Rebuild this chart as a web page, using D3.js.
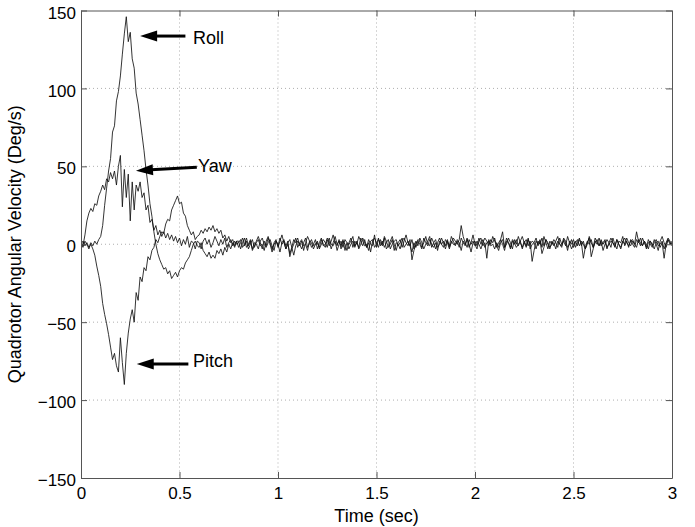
<!DOCTYPE html>
<html>
<head>
<meta charset="utf-8">
<script src="https://cdn.jsdelivr.net/npm/d3@7"></script>
<style>
  body { margin: 0; background: #fff; }
  text { font-family: "Liberation Sans", Arial, Helvetica, sans-serif; fill: #000; }
</style>
</head>
<body>
<div class="js-chart"></div>
<script>
// sample spacing of the recorded signals (sec)
var DT = 0.01;

// Roll rate (deg/s), one value every DT from t = 0 to 3 s
var roll = [
  1, -2, 2, 0, -3, 1, -1, 2, 0, 3,
  5, 12, 25, 36, 47, 55, 72, 76, 92, 98,
  108, 122, 135, 146, 130, 136, 119, 113, 97, 90,
  80, 70, 60, 48, 38, 26, 18, 8, 0, -6,
  -10, -13, -16, -15, -19, -17, -22, -20, -18, -21,
  -17, -15, -16, -12, -10, -8, -4, 0, 2, -1,
  -2, 1, -4, -6, -8, -5, -9, -7, -9, -4,
  -6, -3, -7, -2, -5, 0, -3, 1, -2, 2,
  2, -3, 1, 4, -2, 0, 3, -4, -1, 2,
  5, 1, -3, 2, -1, 4, 0, -5, 1, 3,
  -2, 2, 6, 1, -3, 0, -6, -2, 3, 1,
  4, -1, 2, -4, 1, 5, 2, -2, 0, 3,
  -3, 1, 4, 0, -2, 3, -1, 2, 6, 1,
  -1, 3, -3, 2, 0, -4, 1, 4, -2, 2,
  0, 5, 2, -1, 3, -2, 1, -5, 2, 4,
  1, -2, 3, 0, 4, -3, -1, 2, 5, 0,
  -4, 1, 3, -2, 2, 6, 1, -1, 3, -3,
  2, -1, 4, 1, -3, 0, 2, 5, -2, 1,
  3, -2, 0, 4, 1, -3, 2, -1, 5, 2,
  -1, 3, 1, -4, 2, 0, 4, -2, 1, 6,
  0, -3, 2, 4, -1, 1, -9, 3, 0, 5,
  2, -1, -4, 1, 3, -2, 0, 4, 1, -3,
  3, 0, 5, 1, -2, 2, -1, 4, -3, 0,
  1, 4, -1, 2, -6, -2, 3, 0, -3, 2,
  -1, 2, 5, 0, -2, 3, 1, -4, 2, 0,
  3, -2, 1, 4, -1, 2, -3, 0, 5, 1,
  -2, 1, 3, -1, 2, -4, 0, 3, 1, -2,
  4, 0, -3, 2, 1, 5, -1, 2, -2, 3,
  0, -2, 3, 1, 4, -1, 2, -3, 1, 2,
  -1, 3, 0, -4, 2, 5, 1, -2, 3, 0,
  2
];

// Pitch rate (deg/s)
var pitch = [
  0, 2, -1, 1, -2, 0, -3, -7, -14, -20,
  -27, -38, -45, -51, -58, -66, -74, -70, -78, -82,
  -60, -76, -90, -70, -57, -48, -42, -50, -31, -36,
  -21, -24, -15, -17, -8, -10, -4, -2, 3, 1,
  5, 8, 7, 13, 16, 15, 22, 25, 28, 31,
  26, 27, 20, 18, 12, 9, 6, 8, 3, 5,
  6, 9, 7, 10, 8, 11, 9, 12, 8, 10,
  7, 9, 4, 6, 2, 5, 1, 3, -1, 2,
  -2, 1, 4, -1, 2, -3, 0, 3, -2, 1,
  3, -1, 0, -4, 2, 5, 1, -3, 0, 2,
  -1, 4, 0, 2, -3, 1, 3, -2, -7, -1,
  2, 0, -3, 1, 4, -2, 1, 3, -1, 0,
  1, -2, 3, -1, 0, 4, 2, -3, 1, 5,
  0, 2, -1, 3, -4, 1, 0, 2, 5, -2,
  2, -3, 0, 4, 1, -2, 3, 0, -1, 6,
  -2, 3, 1, -1, 5, 2, -2, 0, 3, -4,
  1, 0, -3, 2, 4, 1, -1, 3, -10, -4,
  0, 3, 2, -2, 1, 5, 0, -1, 4, 1,
  -3, 1, 4, 0, 2, -1, 3, -2, 1, 4,
  2, 0, 3, 12, 5, 1, -2, 3, 0, 2,
  -1, 2, 0, -3, 1, 4, 2, -1, 3, 1,
  4, -2, 1, 3, 8, -2, 4, 1, -3, 2,
  0, 3, -1, 2, 5, 1, -2, 3, 0, 2,
  1, -3, 2, 0, 4, -1, 3, 1, -2, 0,
  3, 1, -2, 4, 0, 2, -1, 5, 1, -3,
  0, 2, -1, 3, 1, -9, -2, 2, 0, 3,
  -2, 4, 1, -1, 3, 0, 2, -3, 1, 4,
  1, -1, 3, 0, -2, 2, 4, 1, -1, 2,
  3, 0, 8, 2, -1, 4, 1, -2, 3, 0,
  -2, 1, 3, -1, 0, 2, -3, 1, 4, 2,
  0
];

// Yaw rate (deg/s)
var yaw = [
  2, -1, 6, 15, 20, 23, 21, 26, 25, 31,
  34, 38, 35, 42, 40, 46, 42, 47, 38, 50,
  57, 24, 48, 30, 45, 15, 40, 22, 38, 34,
  40, 30, 33, 22, 25, 14, 16, 9, 12, 6,
  9, 5, 8, 4, 7, 3, 6, 2, 5, 1,
  4, -1, 3, 0, 5, -2, 2, 1, -3, 2,
  1, -3, 2, 4, 0, 3, -2, 1, 5, 2,
  -1, 3, 0, 4, -2, 1, 3, -1, 2, 0,
  1, 3, -2, 0, 4, -1, 2, -3, 1, 0,
  -3, 2, 4, 0, -2, 1, 3, -1, -4, 2,
  0, -5, 1, 3, -1, 2, -8, -3, 0, 4,
  -2, 1, 3, -1, 0, -4, 2, 1, -3, 0,
  2, -3, 0, 3, 1, -2, 4, 0, -1, 2,
  -4, 0, 2, -2, 3, 1, -3, 0, 2, -1,
  1, -2, 4, 2, -1, 0, -4, 2, 3, -2,
  0, 4, -1, 2, -2, 1, 3, -3, 0, 2,
  3, -1, 1, 4, -2, 0, 2, -1, -5, 1,
  -2, 2, 0, -3, 4, 1, -1, 3, 0, -2,
  1, -4, 2, 0, -2, 3, 1, -3, 2, 0,
  0, 2, -2, 4, 1, -1, 3, 0, -5, 1,
  2, -1, 4, 0, 3, -2, 1, 2, -1, 0,
  -3, 1, -2, 3, 0, -4, 2, 1, -2, 3,
  1, -2, 0, 2, -3, 1, 3, -1, 2, -11,
  -4, 2, 0, 3, -2, 5, 1, -3, 2, 0,
  1, -3, 2, 0, -1, 4, 2, -2, 0, 3,
  -2, 1, 3, -1, 2, 0, -3, 1, 4, -8,
  -3, 2, 0, 4, -1, 1, 3, -2, 0, 2,
  1, -2, 3, 0, -3, 2, 0, 4, 1, -1,
  2, 0, -2, 3, 1, -1, 2, 0, -3, 2,
  0, -3, 1, 2, -2, 1, -9, 0, 3, 1,
  -1
];

// ticks
var xTicks = [0, 0.5, 1, 1.5, 2, 2.5, 3];
var xTickLabels = ["0", "0.5", "1", "1.5", "2", "2.5", "3"];
var yTicks = [-150, -100, -50, 0, 50, 100, 150];
var yTickLabels = ["\u2212150", "\u2212100", "\u221250", "0", "50", "100", "150"];

// arrow annotations: label, text anchor point, arrow tail, arrow tip (sec, deg/s)
var noteLabels = ["Roll", "Yaw", "Pitch"];
var noteText = [[0.568, 128.5], [0.594, 46.4], [0.568, -78.8]];
var noteTail = [[0.53, 133.6], [0.588, 49.4], [0.545, -76.8]];
var noteTip = [[0.30, 133.6], [0.279, 47.2], [0.283, -76.8]];

var W = 695, H = 527;
var margin = {top: 10.5, right: 23, bottom: 49, left: 81};
var width = W - margin.left - margin.right;
var height = H - margin.top - margin.bottom;

var svg = d3.select(".js-chart").append("svg")
  .attr("width", W)
  .attr("height", H);

var g = svg.append("g")
  .attr("transform", "translate(" + margin.left + "," + margin.top + ")");

var x = d3.scaleLinear().domain([0, 3]).range([0, width]);
var y = d3.scaleLinear().domain([-150, 150]).range([height, 0]);

// dotted grid
g.append("g").selectAll("line")
  .data(xTicks.slice(1, -1))
  .enter().append("line")
  .attr("x1", function(d) { return x(d); })
  .attr("x2", function(d) { return x(d); })
  .attr("y1", 0)
  .attr("y2", height)
  .attr("stroke", "#9a9a9a")
  .attr("stroke-width", 0.8)
  .attr("stroke-dasharray", "1,3");

g.append("g").selectAll("line")
  .data(yTicks.slice(1, -1))
  .enter().append("line")
  .attr("x1", 0)
  .attr("x2", width)
  .attr("y1", function(d) { return y(d); })
  .attr("y2", function(d) { return y(d); })
  .attr("stroke", "#9a9a9a")
  .attr("stroke-width", 0.8)
  .attr("stroke-dasharray", "1,3");

// signals
svg.append("clipPath").attr("id", "plotclip")
  .append("rect").attr("width", width).attr("height", height);

var line = d3.line()
  .x(function(d, i) { return x(i * DT); })
  .y(function(d) { return y(d); });

g.append("g").attr("clip-path", "url(#plotclip)")
  .selectAll("path")
  .data([roll, pitch, yaw])
  .enter().append("path")
  .attr("d", line)
  .attr("fill", "none")
  .attr("stroke", "#111")
  .attr("stroke-width", 0.85)
  .attr("stroke-linejoin", "round");

// axes, ticks pointing inward on all four sides
function styleAxis(sel) {
  sel.select(".domain").attr("stroke", "#555").attr("stroke-width", 1);
  sel.selectAll(".tick line").attr("stroke", "#555").attr("stroke-width", 1);
  sel.selectAll("text").attr("font-size", 17).attr("fill", "#000")
    .attr("font-family", "Liberation Sans, Arial, sans-serif");
}

g.append("g")
  .attr("transform", "translate(0," + height + ")")
  .call(d3.axisBottom(x).tickValues(xTicks)
    .tickFormat(function(d, i) { return xTickLabels[i]; })
    .tickSizeInner(-6).tickSizeOuter(0).tickPadding(9))
  .call(styleAxis);

g.append("g")
  .call(d3.axisLeft(y).tickValues(yTicks)
    .tickFormat(function(d, i) { return yTickLabels[i]; })
    .tickSizeInner(-6).tickSizeOuter(0).tickPadding(5))
  .call(styleAxis)
  .selectAll("text").attr("dy", "0.45em");

g.append("g")
  .call(d3.axisTop(x).tickValues(xTicks).tickFormat("")
    .tickSizeInner(-6).tickSizeOuter(0))
  .call(styleAxis);

g.append("g")
  .attr("transform", "translate(" + width + ",0)")
  .call(d3.axisRight(y).tickValues(yTicks).tickFormat("")
    .tickSizeInner(-6).tickSizeOuter(0))
  .call(styleAxis);

// axis titles
svg.append("text")
  .attr("x", margin.left + width / 2)
  .attr("y", 522)
  .attr("text-anchor", "middle")
  .attr("font-size", 18)
  .text("Time (sec)");

svg.append("text")
  .attr("transform", "translate(21," + (margin.top + height / 2) + ") rotate(-90)")
  .attr("text-anchor", "middle")
  .attr("font-size", 18)
  .text("Quadrotor Angular Velocity (Deg/s)");

// arrows + labels: shaft from tail to the head base, filled triangle head
var HEAD_LEN = 17, HEAD_HALF = 5.5;
var notes = g.append("g");
noteLabels.forEach(function(label, i) {
  var x0 = x(noteTail[i][0]), y0 = y(noteTail[i][1]);
  var x1 = x(noteTip[i][0]), y1 = y(noteTip[i][1]);
  var len = Math.sqrt((x1 - x0) * (x1 - x0) + (y1 - y0) * (y1 - y0));
  var ux = (x1 - x0) / len, uy = (y1 - y0) / len;
  var bx = x1 - ux * HEAD_LEN, by = y1 - uy * HEAD_LEN;

  notes.append("line")
    .attr("x1", x0).attr("y1", y0)
    .attr("x2", bx + ux * 2).attr("y2", by + uy * 2)
    .attr("stroke", "#000")
    .attr("stroke-width", 3);

  notes.append("path")
    .attr("d", "M" + x1 + "," + y1 +
      "L" + (bx - uy * HEAD_HALF) + "," + (by + ux * HEAD_HALF) +
      "L" + (bx + uy * HEAD_HALF) + "," + (by - ux * HEAD_HALF) + "Z")
    .attr("fill", "#000");

  notes.append("text")
    .attr("x", x(noteText[i][0]))
    .attr("y", y(noteText[i][1]))
    .attr("font-size", 18)
    .text(label);
});
</script>
</body>
</html>
